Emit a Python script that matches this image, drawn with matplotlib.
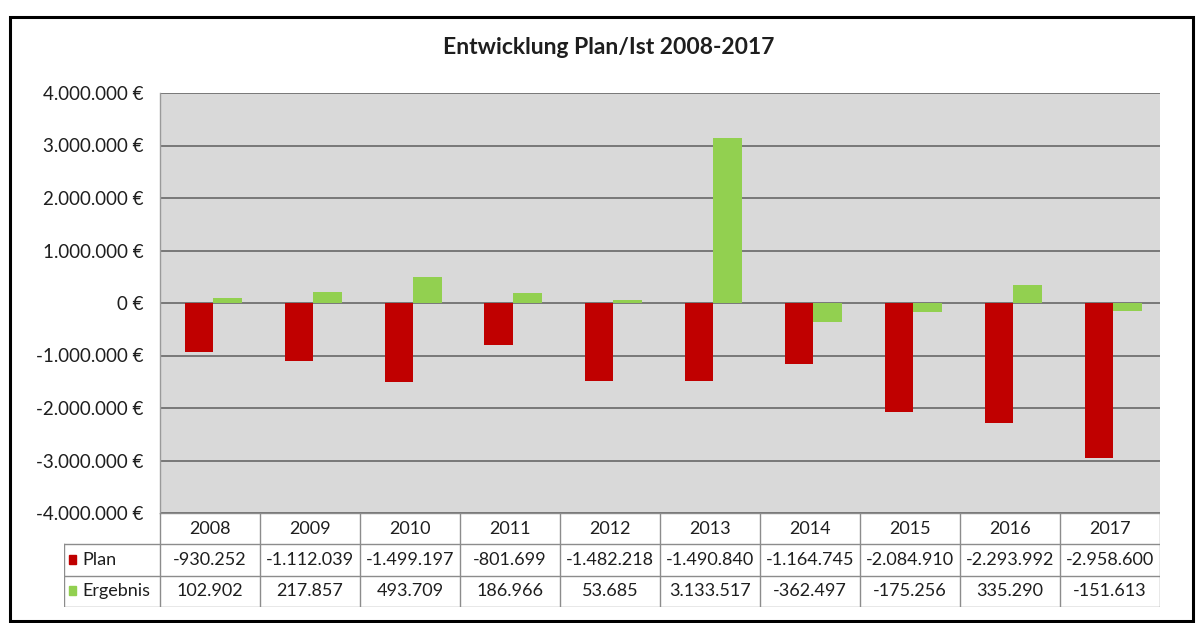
import matplotlib.pyplot as plt
from matplotlib.patches import Rectangle
from matplotlib.lines import Line2D

years = ["2008", "2009", "2010", "2011", "2012", "2013", "2014", "2015", "2016", "2017"]
plan = [-930252, -1112039, -1499197, -801699, -1482218, -1490840, -1164745, -2084910, -2293992, -2958600]
ergebnis = [102902, 217857, 493709, 186966, 53685, 3133517, -362497, -175256, 335290, -151613]
series_names = ["Plan", "Ergebnis"]
y_ticks = [-4000000, -3000000, -2000000, -1000000, 0, 1000000, 2000000, 3000000, 4000000]

RED = "#C00000"
GREEN = "#92D050"
FONT = "Lato"
TXT = "#1E1E1E"

W, H = 1196, 623
fig = plt.figure(figsize=(W / 100, H / 100), dpi=100)
fig.patch.set_facecolor("white")


def px(x0, y0, x1, y1):
    """Pixel box (top-left origin) -> figure fraction rect."""
    return [x0 / W, 1 - y1 / H, (x1 - x0) / W, (y1 - y0) / H]


def de_num(v):
    s = f"{abs(int(v)):,}".replace(",", ".")
    return ("-" if v < 0 else "") + s


# outer chart frame
fig.add_artist(Rectangle((10 / W, 1 - 621 / H), 1183 / W, 604 / H,
                         transform=fig.transFigure, fill=False,
                         edgecolor="black", linewidth=2.2))

# title
fig.text(608.5 / W, 1 - 54 / H, "Entwicklung Plan/Ist 2008-2017", fontfamily=FONT,
         fontsize=16.5, fontweight="bold", ha="center", va="baseline", color=TXT)

# plot area
ax = fig.add_axes(px(160, 93, 1160, 513))
ax.set_facecolor("#D9D9D9")
x = list(range(len(years)))
bw = 0.285
ax.bar([i - bw / 2 + 0.03 for i in x], plan, width=bw, color=RED, zorder=3)
ax.bar([i + bw / 2 + 0.03 for i in x], ergebnis, width=bw, color=GREEN, zorder=3)
ax.set_xlim(-0.5, len(years) - 0.5)
ax.set_ylim(-4000000, 4000000)
ax.set_yticks(y_ticks)
ax.set_yticklabels([de_num(v) + " €" for v in y_ticks], fontfamily=FONT,
                   fontsize=13.5, color=TXT)
ax.tick_params(axis="y", length=0, pad=12)
ax.set_xticks([])
for v in y_ticks:
    ax.axhline(v, color="#707070", linewidth=1.3, zorder=1)
for side in ["top", "right", "bottom"]:
    ax.spines[side].set_visible(False)
ax.spines["left"].set_color("#9A9A9A")
ax.spines["left"].set_linewidth(1.0)

# data table below the plot
tab = fig.add_axes(px(64, 513, 1160, 607))
tab.set_xlim(-1.46, len(years) - 0.5)
tab.set_ylim(3, 0)
tab.axis("off")
lc = "#8C8C8C"
lw = 1.0
# horizontal lines
tab.add_line(Line2D([-0.5, len(years) - 0.5], [0, 0], color=lc, lw=lw))
for yy in [1, 2, 3]:
    tab.add_line(Line2D([-1.46, len(years) - 0.5], [yy, yy], color=lc, lw=lw))
# vertical lines
for i in range(len(years) + 1):
    tab.add_line(Line2D([i - 0.5, i - 0.5], [0, 3], color=lc, lw=lw))
tab.add_line(Line2D([-1.46, -1.46], [1, 3], color=lc, lw=lw))

tkw = dict(fontfamily=FONT, fontsize=13, ha="center", va="center", color=TXT)
for i, yr in enumerate(years):
    tab.text(i, 0.5, yr, **tkw)
    tab.text(i, 1.5, de_num(plan[i]), **tkw)
    tab.text(i, 2.5, de_num(ergebnis[i]), **tkw)

# legend keys inside the row headers
for r, (name, col) in enumerate(zip(series_names, [RED, GREEN])):
    tab.add_patch(Rectangle((-1.41, 1 + r + 0.34), 0.07, 0.28, color=col))
    tab.text(-1.28, 1.5 + r, name, fontfamily=FONT, fontsize=13,
             ha="left", va="center", color=TXT)

fig.savefig("out.png", dpi=100)
